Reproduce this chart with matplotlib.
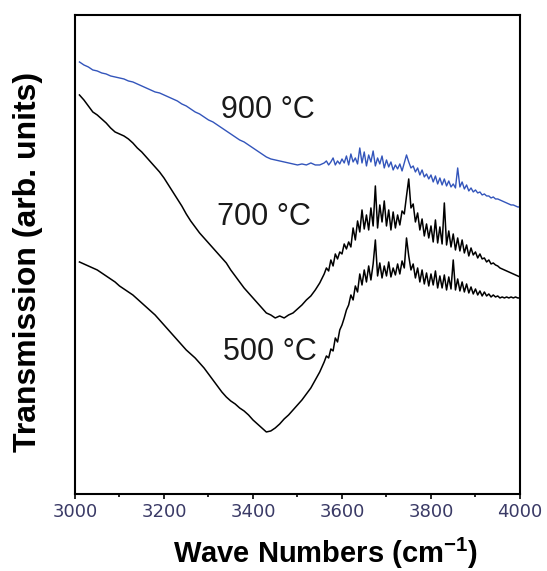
import matplotlib.pyplot as plt
import numpy as np

# FTIR transmission spectra, values in arbitrary units
# smooth part every 10 cm-1, noisy part every 5 cm-1
wn_smooth = np.arange(3010, 3551, 10)
wn_noisy = np.arange(3560, 4001, 5)
wavenumber = np.concatenate([wn_smooth, wn_noisy])

t900_smooth = [43.2, 42.9, 42.7, 42.4, 42.3, 42.1, 42.0, 41.8, 41.7, 41.6,
               41.5, 41.3, 41.2, 41.0, 40.8, 40.6, 40.4, 40.2, 40.1, 39.9,
               39.7, 39.5, 39.3, 39.0, 38.8, 38.5, 38.2, 38.0, 37.7, 37.4,
               37.2, 36.9, 36.6, 36.3, 36.0, 35.7, 35.4, 35.2, 34.9, 34.6,
               34.3, 34.0, 33.7, 33.5, 33.4, 33.3, 33.2, 33.1, 33.0, 32.9,
               33.0, 32.9, 33.1, 32.9, 32.9]
t900_noisy = [33.1, 33.3, 32.9, 33.2, 33.6, 32.9, 33.3, 33.0, 33.5, 33.1,
              33.8, 32.9, 34.0, 33.2, 33.6, 33.0, 34.6, 33.1, 34.2, 32.8,
              33.9, 33.2, 34.3, 32.8, 33.6, 33.0, 33.8, 32.6, 33.4, 32.7,
              33.2, 32.4, 32.9, 32.5, 33.0, 32.3, 33.1, 33.9, 33.2, 32.6,
              32.8, 32.2, 32.6, 31.9, 32.4, 31.7, 32.0, 31.5, 31.9, 31.2,
              31.8, 31.0, 31.6, 30.9, 31.5, 30.8, 31.3, 30.7, 31.0, 30.6,
              32.6, 30.7, 31.2, 30.5, 30.9, 30.3, 30.6, 30.2, 30.4, 30.1,
              30.2, 29.9, 30.0, 29.8, 29.8, 29.6, 29.7, 29.5, 29.5, 29.4,
              29.3, 29.2, 29.1, 29.0, 28.9, 28.9, 28.8, 28.7, 28.7]

t700_smooth = [39.9, 39.4, 38.8, 38.2, 37.9, 37.5, 37.1, 36.6, 36.2, 36.0,
               35.8, 35.5, 35.1, 34.6, 34.2, 33.7, 33.2, 32.7, 32.2, 31.6,
               30.9, 30.2, 29.5, 28.8, 28.0, 27.3, 26.7, 26.1, 25.6, 25.1,
               24.6, 24.1, 23.6, 23.1, 22.4, 21.8, 21.2, 20.6, 20.1, 19.6,
               19.1, 18.6, 18.1, 17.9, 17.6, 17.8, 17.6, 17.9, 18.1, 18.5,
               18.9, 19.4, 19.8, 20.4, 21.1]
t700_noisy = [22.0, 22.6, 22.3, 23.4, 22.8, 24.0, 23.5, 24.2, 24.0, 25.0,
              24.5, 25.2, 24.7, 26.6, 25.4, 27.3, 26.2, 28.4, 26.5, 27.9,
              26.4, 28.6, 26.8, 30.8, 26.6, 28.9, 27.2, 29.3, 26.8, 28.4,
              26.4, 28.2, 26.6, 27.9, 26.9, 28.3, 28.0, 29.8, 31.5, 28.6,
              29.0, 27.2, 28.1, 26.4, 27.5, 25.8, 27.0, 25.6, 26.8, 25.2,
              27.4, 25.1, 26.7, 25.0, 29.1, 24.9, 26.3, 24.7, 26.0, 24.4,
              25.6, 24.3, 25.4, 24.1, 24.9, 23.8, 24.6, 23.9, 24.2, 23.6,
              24.0, 23.5, 23.6, 23.2, 23.4, 23.0, 23.1, 22.9, 22.8, 22.6,
              22.5, 22.4, 22.3, 22.2, 22.1, 22.0, 21.9, 21.8, 21.7]

t500_smooth = [23.2, 23.0, 22.8, 22.6, 22.4, 22.1, 21.8, 21.5, 21.2, 20.8,
               20.5, 20.2, 19.9, 19.5, 19.1, 18.7, 18.3, 17.9, 17.4, 16.9,
               16.4, 15.9, 15.4, 14.9, 14.4, 14.0, 13.6, 13.1, 12.6, 12.0,
               11.4, 10.8, 10.2, 9.7, 9.3, 9.0, 8.6, 8.3, 7.9, 7.4,
               7.0, 6.6, 6.2, 6.3, 6.6, 7.0, 7.5, 7.9, 8.4, 8.9,
               9.4, 10.0, 10.6, 11.4, 12.2]
t500_noisy = [13.2, 13.8, 13.6, 14.5, 14.3, 15.6, 15.2, 16.4, 16.9, 17.6,
              18.4, 18.9, 19.9, 19.4, 20.8, 20.2, 22.0, 20.9, 22.4, 21.2,
              22.8, 21.4, 23.0, 25.4, 21.8, 23.1, 21.6, 22.8, 21.8, 23.2,
              21.7, 22.6, 21.9, 23.0, 22.0, 23.3, 22.6, 25.6, 23.8, 22.4,
              23.0, 21.6, 22.6, 21.2, 22.4, 21.0, 22.1, 20.8, 22.0, 20.9,
              22.3, 20.6, 21.8, 20.6, 21.9, 20.4, 21.7, 20.5, 23.4, 20.4,
              21.5, 20.3, 21.2, 20.2, 21.0, 20.1, 20.7, 20.0, 20.5, 19.9,
              20.3, 19.8, 20.2, 19.8, 20.0, 19.7, 19.9, 19.7, 19.8, 19.6,
              19.7, 19.6, 19.7, 19.6, 19.7, 19.6, 19.7, 19.6, 19.6]

t900 = t900_smooth + t900_noisy
t700 = t700_smooth + t700_noisy
t500 = t500_smooth + t500_noisy

labels = ['900 °C', '700 °C', '500 °C']
label_x = [3434, 3425, 3438]
label_y = [38.4, 27.7, 14.2]

plt.rcParams['font.family'] = ['Liberation Sans', 'DejaVu Sans']
plt.rcParams['mathtext.default'] = 'regular'

fig = plt.figure(figsize=(5.47, 5.71), dpi=100)
ax = fig.add_axes([0.1371, 0.1349, 0.8135, 0.8389])

ax.plot(wavenumber, t900, color='#3355bb', lw=1.0)
ax.plot(wavenumber, t700, color='black', lw=1.1)
ax.plot(wavenumber, t500, color='black', lw=1.1)

for txt, x, y in zip(labels, label_x, label_y):
    ax.text(x, y, txt, fontsize=22, ha='center', va='center', color='#1a1a1a')

ax.set_xlim(3000, 4000)
ax.set_ylim(0, 47.9)
ax.set_xticks([3000, 3200, 3400, 3600, 3800, 4000])
ax.set_xticks(np.arange(3100, 4000, 200), minor=True)
ax.set_yticks([])
ax.tick_params(axis='x', which='major', direction='out', length=3.5, width=1.2,
               labelsize=13, labelcolor='#3a3a66', pad=3)
ax.tick_params(axis='x', which='minor', direction='out', length=2, width=1.2)
for tl in ax.get_xticklabels():
    tl.set_family('DejaVu Sans')
for sp in ax.spines.values():
    sp.set_linewidth(1.5)

fig.text(325 / 547, 1 - 553 / 571, 'Wave Numbers (cm$^{-1}$)', fontsize=21,
         fontweight='bold', ha='center', va='center')
fig.text(28 / 547, 1 - 262 / 571, 'Transmission (arb. units)', fontsize=23,
         fontweight='bold', rotation=90, ha='center', va='center')

plt.savefig('out.png', dpi=100, facecolor='white')
